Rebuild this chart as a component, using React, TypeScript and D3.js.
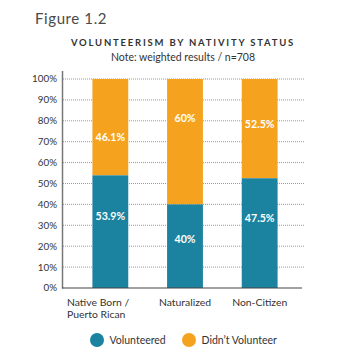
import React from "react";
import * as d3 from "d3";

const categories = ["Native Born / Puerto Rican", "Naturalized", "Non-Citizen"];
const categoryLines = [["Native Born /", "Puerto Rican"], ["Naturalized"], ["Non-Citizen"]];
// bar heights as drawn in the picture
const volunteered = [53.9, 40, 52.5];
const volunteeredLabels = ["53.9%", "40%", "47.5%"];
const didntLabels = ["46.1%", "60%", "52.5%"];
// label anchor values (data units)
const volunteeredLabelAt = [34.4, 23.4, 33.2];
const didntLabelAt = [72.2, 81, 78.5];
const yTicks = [0, 10, 20, 30, 40, 50, 60, 70, 80, 90, 100];
const seriesNames = ["Volunteered", "Didn\u2019t Volunteer"];

const TEAL = "#1b82a0";
const ORANGE = "#f5a31f";
const FONT = "Lato, 'Open Sans', sans-serif";

export default function App() {
  const W = 363, H = 357;
  const y = d3.scaleLinear().domain([0, 100]).range([288, 79]);
  const x = d3.scaleBand().domain(categories).range([73, 297]).paddingInner(0.52).paddingOuter(0.26);
  const bw = x.bandwidth();
  return (
    <svg width={W} height={H} style={{ position: "absolute", left: 0, top: 0, background: "#fff" }} fontFamily={FONT}>
      <text x={35} y={24} fontSize={15} fill="#4a4a4a" letterSpacing={0.6}>Figure 1.2</text>
      <text x={183} y={46} fontSize={9.5} fontWeight={700} fill="#333" textAnchor="middle" letterSpacing={1.8}>VOLUNTEERISM BY NATIVITY STATUS</text>
      <text x={183} y={61} fontSize={10.5} fill="#333" textAnchor="middle">Note: weighted results / n=708</text>
      {yTicks.map((t) => (
        <g key={t}>
          {t > 0 && <line x1={63} x2={305} y1={y(t)} y2={y(t)} stroke="#999" strokeWidth={1} strokeDasharray="1,1" />}
          <text x={57} y={y(t)} dy="0.35em" fontSize={9.8} fill="#333" textAnchor="end">{t}%</text>
        </g>
      ))}
      {categories.map((c, i) => (
        <g key={c}>
          <rect x={x(c)} width={bw} y={y(100)} height={y(volunteered[i]) - y(100)} fill={ORANGE} />
          <rect x={x(c)} width={bw} y={y(volunteered[i])} height={y(0) - y(volunteered[i])} fill={TEAL} />
          <text x={x(c)! + bw / 2} y={y(didntLabelAt[i])} dy="0.35em" textAnchor="middle" fontSize={10.6} fontWeight={700} fill="#fff">{didntLabels[i]}</text>
          <text x={x(c)! + bw / 2} y={y(volunteeredLabelAt[i])} dy="0.35em" textAnchor="middle" fontSize={10.6} fontWeight={700} fill="#fff">{volunteeredLabels[i]}</text>
        </g>
      ))}
      <line x1={62.5} x2={62.5} y1={71} y2={288.5} stroke="#777" strokeWidth={1.5} />
      <line x1={62} x2={302} y1={288} y2={288} stroke="#444" strokeWidth={1.2} />
      {categories.map((c, i) => {
        const lines = categoryLines[i];
        const left = i === 0;
        return (
          <text key={c} x={left ? 67 : x(c)! + bw / 2} y={306} fontSize={10.4} fill="#333" textAnchor={left ? "start" : "middle"}>
            {lines.map((l, j) => (
              <tspan key={j} x={left ? 67 : x(c)! + bw / 2} dy={j === 0 ? 0 : 11.5}>{l}</tspan>
            ))}
          </text>
        );
      })}
      {seriesNames.map((s, i) => (
        <g key={s} transform={`translate(${i === 0 ? 97 : 189},340)`}>
          <circle r={7} fill={i === 0 ? TEAL : ORANGE} />
          <text x={12.5} dy="0.35em" fontSize={10.5} fill="#333">{s}</text>
        </g>
      ))}
    </svg>
  );
}
